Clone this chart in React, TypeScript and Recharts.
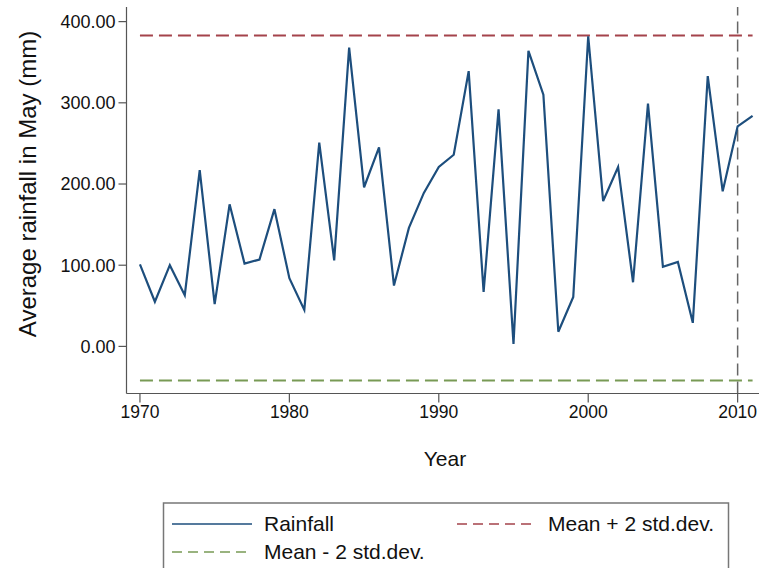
import { CartesianGrid, Label, Line, LineChart, ReferenceLine, XAxis, YAxis } from "recharts";

const years = [
  1970, 1971, 1972, 1973, 1974, 1975, 1976, 1977, 1978, 1979, 1980, 1981, 1982, 1983,
  1984, 1985, 1986, 1987, 1988, 1989, 1990, 1991, 1992, 1993, 1994, 1995, 1996, 1997,
  1998, 1999, 2000, 2001, 2002, 2003, 2004, 2005, 2006, 2007, 2008, 2009, 2010, 2011,
];
const rainfall = [
  101, 55, 100, 63, 217, 52, 175, 102, 107, 169, 84, 45, 251, 106,
  368, 196, 245, 75, 146, 189, 221, 236, 339, 67, 292, 3, 364, 310,
  18, 61, 382, 179, 221, 79, 299, 98, 104, 29, 333, 191, 271, 284,
];
const upperBand = 383;
const lowerBand = -42;
const cutoffYear = 2010;
const xTicks = [1970, 1980, 1990, 2000, 2010];
const yTicks = [0, 100, 200, 300, 400];

const rows = years.map((year, i) => ({ year, rainfall: rainfall[i] }));

const font = "'Liberation Sans', Arial, sans-serif";
const blue = "#1d4e7d";
const red = "#a4434b";
const green = "#789a55";
const axisGray = "#555";

function LegendBox() {
  return (
    <svg width={759} height={568} style={{ position: "absolute", left: 0, top: 0, pointerEvents: "none" }}>
      <rect x={163.5} y={503} width={565} height={90} fill="#fff" stroke="#777" strokeWidth={1.5} />
      <line x1={172} y1={524} x2={252} y2={524} stroke={blue} strokeWidth={1.5} />
      <text x={264} y={531} fontSize={21} fontFamily={font} fill="#111">Rainfall</text>
      <line x1={457} y1={524} x2={537} y2={524} stroke={red} strokeWidth={1.5} strokeDasharray="10 6" />
      <text x={548} y={531} fontSize={21} fontFamily={font} fill="#111">Mean + 2 std.dev.</text>
      <line x1={172} y1={552} x2={252} y2={552} stroke={green} strokeWidth={1.5} strokeDasharray="10 6" />
      <text x={264} y={559} fontSize={21} fontFamily={font} fill="#111">Mean - 2 std.dev.</text>
    </svg>
  );
}

export default function App() {
  return (
    <div
      style={{
        position: "absolute",
        left: 0,
        top: 0,
        width: 759,
        height: 568,
        overflow: "hidden",
        background: "#fff",
        fontFamily: font,
      }}
    >
      <LineChart width={759} height={568} data={rows} margin={{ top: 7, right: 0, left: 0, bottom: 0 }}>
        <CartesianGrid stroke="none" />
        <XAxis
          dataKey="year"
          type="number"
          domain={[1969.1, 2011.43]}
          ticks={xTicks}
          allowDataOverflow
          height={174.5}
          tickSize={9}
          tickMargin={3}
          tick={{ fill: "#111", fontSize: 17.5, fontFamily: font }}
          axisLine={{ stroke: axisGray, strokeWidth: 1.2 }}
          tickLine={{ stroke: axisGray, strokeWidth: 1.2 }}
        >
          <Label
            content={() => (
              <text x={445} y={466} textAnchor="middle" fontSize={21} fontFamily={font} fill="#111">
                Year
              </text>
            )}
          />
        </XAxis>
        <YAxis
          type="number"
          domain={[-58, 418]}
          ticks={yTicks}
          allowDataOverflow
          width={126.5}
          tickSize={8}
          tickMargin={3}
          tickFormatter={(v: number) => v.toFixed(2)}
          tick={{ fill: "#111", fontSize: 18, fontFamily: font }}
          axisLine={{ stroke: axisGray, strokeWidth: 1.2 }}
          tickLine={{ stroke: axisGray, strokeWidth: 1.2 }}
        >
          <Label
            content={() => (
              <text
                x={27}
                y={184}
                transform="rotate(-90 27 184)"
                textAnchor="middle"
                dominantBaseline="central"
                fontSize={24}
                fontFamily={font}
                fill="#111"
              >
                Average rainfall in May (mm)
              </text>
            )}
          />
        </YAxis>
        <ReferenceLine
          segment={[{ x: years[0], y: upperBand }, { x: years[years.length - 1], y: upperBand }]}
          stroke={red}
          strokeWidth={2}
          strokeDasharray="13 6"
        />
        <ReferenceLine
          segment={[{ x: years[0], y: lowerBand }, { x: years[years.length - 1], y: lowerBand }]}
          stroke={green}
          strokeWidth={2}
          strokeDasharray="13 6"
        />
        <ReferenceLine x={cutoffYear} stroke="#666" strokeWidth={1.5} strokeDasharray="12 6" />
        <Line
          type="linear"
          dataKey="rainfall"
          stroke={blue}
          strokeWidth={2.2}
          dot={false}
          isAnimationActive={false}
        />
      </LineChart>
      <LegendBox />
    </div>
  );
}
